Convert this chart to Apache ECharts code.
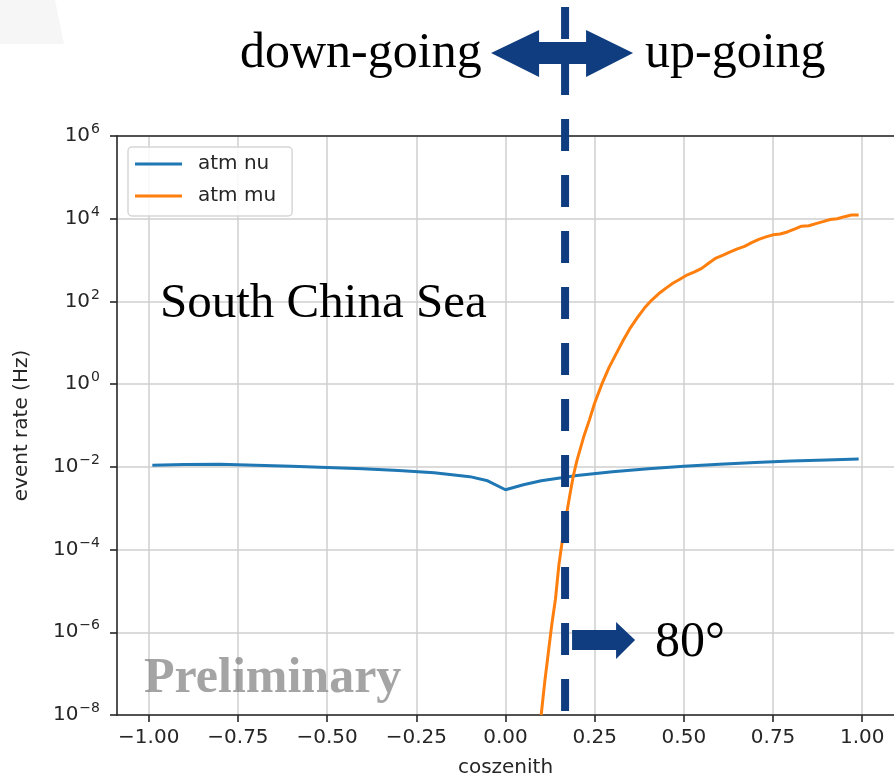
<!DOCTYPE html>
<html>
<head>
<meta charset="utf-8">
<title>Atmospheric event rate vs coszenith</title>
<script src="https://cdn.jsdelivr.net/npm/echarts@6/dist/echarts.min.js"></script>
<style>
  html, body { margin: 0; padding: 0; background: #ffffff; }
  #chart { width: 894px; height: 780px; }
</style>
</head>
<body>
<div id="chart"></div>
<script>
// atm nu: neutrino-induced event rate (Hz) vs cos(zenith)
const nuCos = [-0.99, -0.9, -0.8, -0.7, -0.6, -0.5, -0.4, -0.3, -0.2, -0.1, -0.05, 0.0,
               0.05, 0.1, 0.2, 0.3, 0.4, 0.5, 0.6, 0.7, 0.8, 0.9, 0.99];
const nuRate = [1.10e-2, 1.14e-2, 1.15e-2, 1.10e-2, 1.04e-2, 9.7e-3, 9.0e-3, 8.2e-3, 7.2e-3, 5.8e-3, 4.6e-3, 2.8e-3,
                3.7e-3, 4.6e-3, 6.2e-3, 7.6e-3, 9.0e-3, 1.03e-2, 1.15e-2, 1.27e-2, 1.38e-2, 1.47e-2, 1.55e-2];

// atm mu: atmospheric muon event rate (Hz) vs cos(zenith)
const muCos = [0.10, 0.11, 0.12, 0.13, 0.14, 0.15, 0.16, 0.17, 0.18, 0.19, 0.20, 0.21, 0.22, 0.235, 0.25,
               0.27, 0.29, 0.31, 0.33, 0.35, 0.37, 0.39, 0.41, 0.43, 0.45, 0.47, 0.49, 0.51, 0.53, 0.55,
               0.57, 0.59, 0.61, 0.63, 0.65, 0.67, 0.69, 0.71, 0.73, 0.75, 0.77, 0.79, 0.81, 0.83, 0.85,
               0.87, 0.89, 0.91, 0.93, 0.95, 0.97, 0.99];
const muRate = [1.0e-8, 6.3e-8, 3.2e-7, 1.6e-6, 6.3e-6, 4.5e-5, 1.8e-4, 6.3e-4, 2.0e-3, 6.0e-3, 1.4e-2, 2.8e-2, 5.6e-2, 0.135, 0.35,
                1.0, 2.5, 5.4, 11.5, 23, 41, 70, 108, 155, 210, 278, 350, 440, 520, 630,
                850, 1120, 1320, 1580, 1860, 2140, 2630, 3160, 3630, 4070, 4270, 4790, 5620, 6610, 6760,
                7590, 8510, 9550, 10000, 11200, 12300, 12300];

// axis ticks
const xTicks = [-1.0, -0.75, -0.5, -0.25, 0.0, 0.25, 0.5, 0.75, 1.0];
const yMin = 1e-8, yMax = 1e6;

const seriesNames = ['atm nu', 'atm mu'];
const seriesColors = ['#1f77b4', '#ff7f0e'];

const zip = (xs, ys) => xs.map((x, i) => [x, ys[i]]);
const MINUS = '\u2212';
const INK = '#262626';
const SANS = 'DejaVu Sans';
const BLUE = '#0f3d7f';

const chart = echarts.init(document.getElementById('chart'), null, { renderer: 'canvas' });

const option = {
  backgroundColor: '#ffffff',
  animation: false,
  grid: { left: 117, right: 0, top: 136, bottom: 65, containLabel: false, outerBoundsMode: 'none' },
  legend: {
    orient: 'vertical',
    left: 128, top: 147,
    padding: [7, 16, 10, 7],
    itemGap: 12,
    itemWidth: 47, itemHeight: 3,
    icon: 'rect',
    backgroundColor: 'rgba(255,255,255,0.85)',
    borderColor: '#d6d6d6', borderWidth: 1.5, borderRadius: 4,
    textStyle: { fontFamily: SANS, fontSize: 20, color: INK, lineHeight: 20, padding: [0, 0, 0, 11] },
    data: seriesNames
  },
  xAxis: [{
    type: 'value',
    min: -1.089, max: 1.089,
    name: 'coszenith', nameLocation: 'middle', nameGap: 43,
    nameTextStyle: { fontFamily: SANS, fontSize: 20, color: INK },
    axisLine: { show: true, onZero: false, lineStyle: { color: INK, width: 1.6 } },
    axisTick: { show: true, inside: false, length: 7, customValues: xTicks, lineStyle: { color: INK, width: 1.6 } },
    axisLabel: {
      customValues: xTicks, margin: 13,
      fontFamily: SANS, fontSize: 20, color: INK,
      formatter: v => (v < 0 ? MINUS : '') + Math.abs(v).toFixed(2)
    },
    splitLine: { show: true, lineStyle: { color: '#cfcfcf', width: 1.5 } }
  }, {
    type: 'value', position: 'top',
    min: -1.089, max: 1.089,
    axisLine: { show: true, onZero: false, lineStyle: { color: INK, width: 1.6 } },
    axisTick: { show: false }, axisLabel: { show: false }, splitLine: { show: false }
  }],
  yAxis: {
    type: 'log', logBase: 10,
    min: yMin, max: yMax, interval: 2,
    name: 'event rate (Hz)', nameLocation: 'middle', nameGap: 85, nameRotate: 90,
    nameTextStyle: { fontFamily: SANS, fontSize: 20, color: INK },
    axisLine: { show: true, onZero: false, lineStyle: { color: INK, width: 1.6 } },
    axisTick: { show: true, inside: false, length: 7, lineStyle: { color: INK, width: 1.6 } },
    minorTick: { show: false },
    axisLabel: {
      margin: 17,
      formatter: v => {
        const e = Math.round(Math.log10(v));
        return '{b|10}{s|' + (e < 0 ? MINUS : '') + Math.abs(e) + '}';
      },
      rich: {
        b: { fontFamily: SANS, fontSize: 20, color: INK },
        s: { fontFamily: SANS, fontSize: 14, color: INK, padding: [0, 0, 13, 1] }
      }
    },
    splitLine: { show: true, lineStyle: { color: '#cfcfcf', width: 1.5 } }
  },
  series: [
    {
      name: seriesNames[0], type: 'line', data: zip(nuCos, nuRate),
      showSymbol: false, symbol: 'none', clip: true,
      lineStyle: { color: seriesColors[0], width: 3 }, itemStyle: { color: seriesColors[0] }
    },
    {
      name: seriesNames[1], type: 'line', data: zip(muCos, muRate),
      showSymbol: false, symbol: 'none', clip: true,
      lineStyle: { color: seriesColors[1], width: 3 }, itemStyle: { color: seriesColors[1] }
    }
  ]
};

chart.setOption(option);

// Annotation layer: direction arrows, the 80 degree cut and text labels
const cutX = chart.convertToPixel({ xAxisIndex: 0 }, 0.167);
const plotBottom = chart.convertToPixel({ yAxisIndex: 0 }, yMin);

chart.setOption({
  graphic: [
    { type: 'polygon', silent: true, z: 0,
      shape: { points: [[0, 0], [55, 0], [64, 44], [0, 44]] },
      style: { fill: '#f6f6f6' } },
    { type: 'text', left: 240, top: 29, z: 100,
      style: { text: 'down-going', font: '50px "Liberation Serif"', fill: '#000' } },
    { type: 'text', left: 645, top: 29, z: 100,
      style: { text: 'up-going', font: '50px "Liberation Serif"', fill: '#000' } },
    { type: 'polygon', z: 100,
      shape: { points: [[cutX - 74, 53], [cutX - 26, 30], [cutX - 26, 42], [cutX + 21, 42], [cutX + 21, 30],
                        [cutX + 68, 53], [cutX + 21, 77], [cutX + 21, 64], [cutX - 26, 64], [cutX - 26, 77]] },
      style: { fill: BLUE } },
    { type: 'line', z: 101,
      shape: { x1: cutX, y1: 7, x2: cutX, y2: plotBottom },
      style: { stroke: BLUE, lineWidth: 8, lineDash: [32, 24], lineCap: 'butt' } },
    { type: 'polygon', z: 100,
      shape: { points: [[cutX + 7, 630], [cutX + 51, 630], [cutX + 51, 622], [cutX + 70, 640],
                        [cutX + 51, 659], [cutX + 51, 650], [cutX + 7, 650]] },
      style: { fill: BLUE } },
    { type: 'text', left: 655, top: 618, z: 100,
      style: { text: '80\u00b0', font: '50px "Liberation Serif"', fill: '#000' } },
    { type: 'text', left: 160, top: 280, z: 100,
      style: { text: 'South China Sea', font: '49px "Liberation Serif"', fill: '#000' } },
    { type: 'text', left: 144, top: 654, z: 100,
      style: { text: 'Preliminary', font: 'bold 50px "Liberation Serif"', fill: 'rgba(125,125,125,0.7)' } }
  ]
});
</script>
</body>
</html>
